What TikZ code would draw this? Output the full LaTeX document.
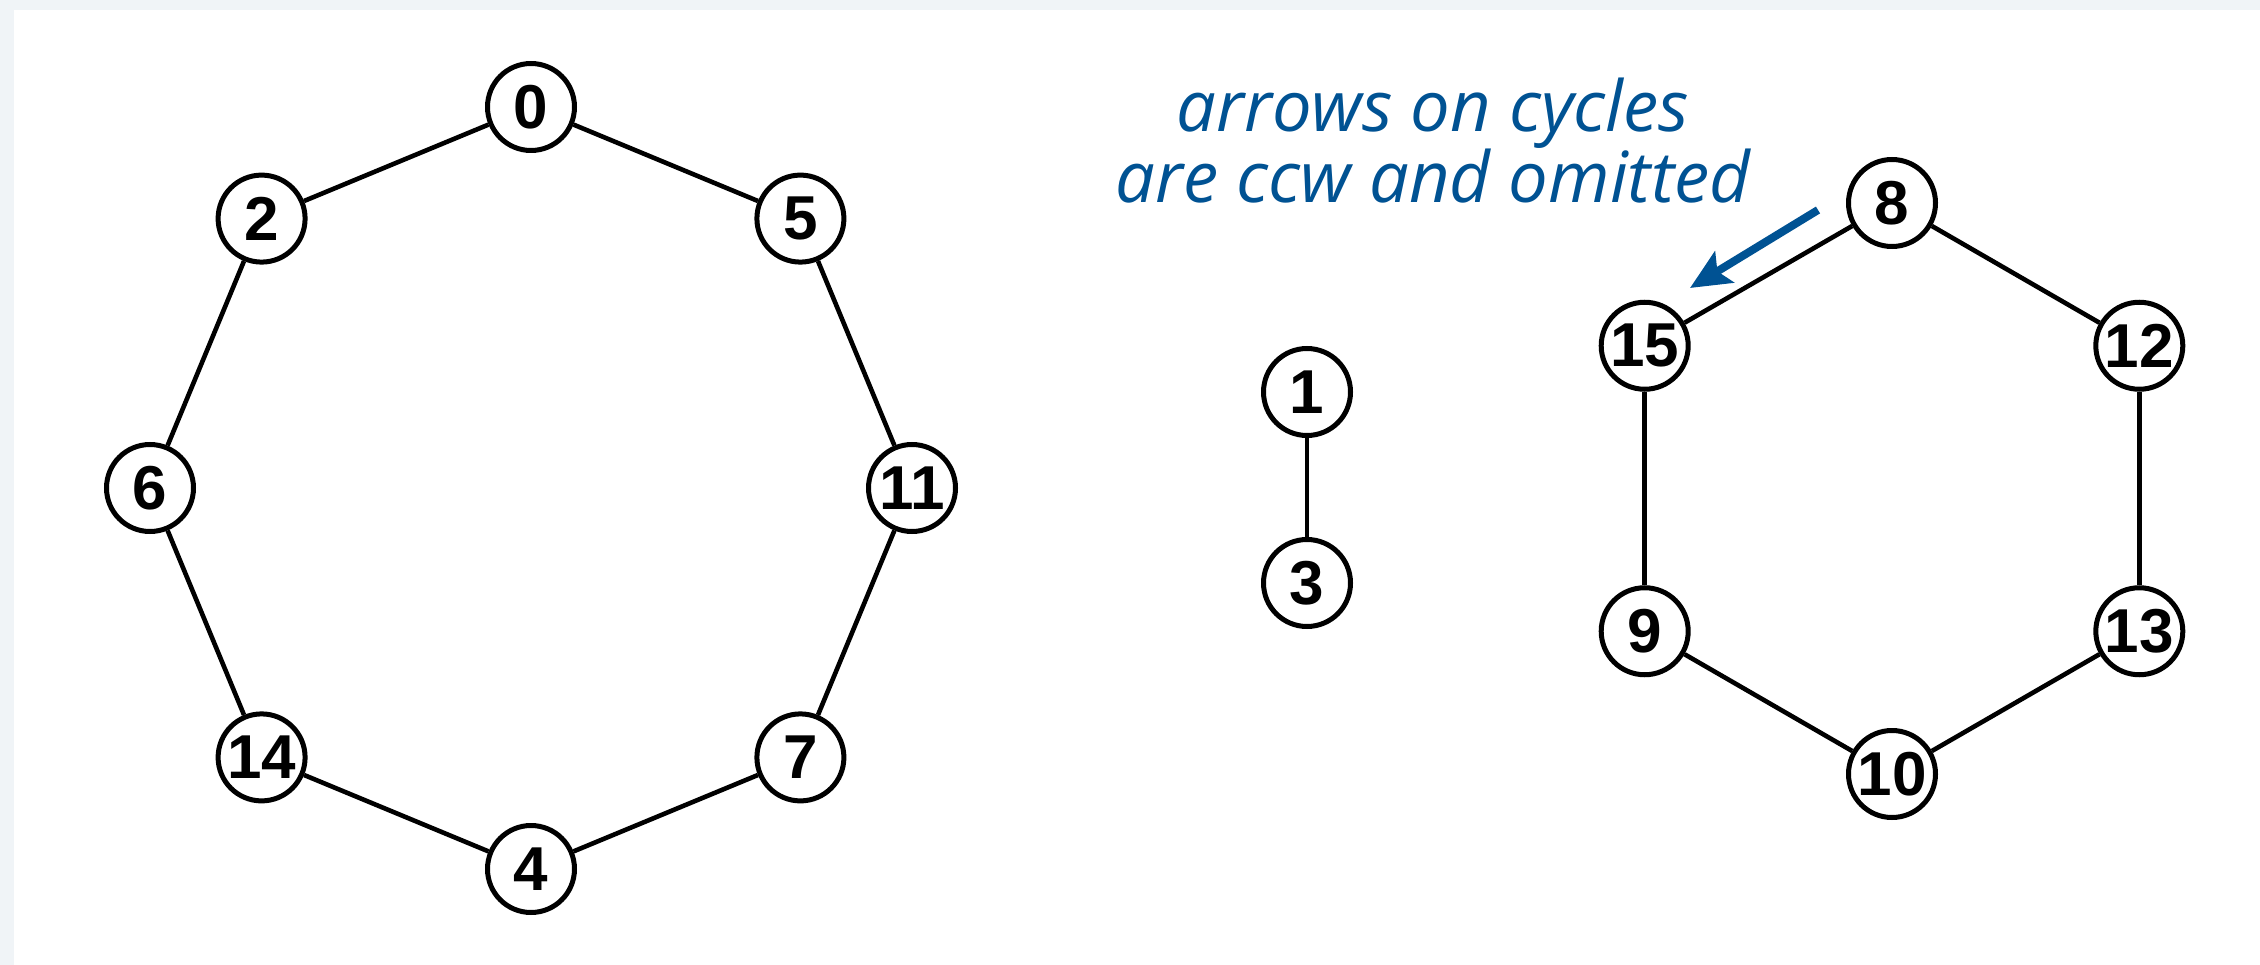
\documentclass[tikz,border=0pt]{standalone}
\usepackage{fontspec}
\setmainfont{Liberation Sans}
\newfontfamily\numfont{Liberation Sans}
\newfontfamily\notefont{Open Sans}
\usetikzlibrary{arrows.meta}
\definecolor{bgc}{RGB}{240,244,247}
\definecolor{noteblue}{RGB}{0,82,147}
\tikzset{
  vert/.style={circle, draw=black, fill=white, line width=5pt, minimum size=87pt, inner sep=0pt,
    font=\numfont\fontsize{62}{62}\selectfont\bfseries},
  edge/.style={draw=black, line width=4.6pt},
  notetext/.style={text=noteblue, align=center, inner sep=0pt,
    font=\notefont\itshape\fontsize{70.5}{69}\selectfont},
  notearrow/.style={draw=noteblue, line width=8pt, -{Stealth[length=40pt,width=36pt,inset=8pt]}}
}
\begin{document}
\begin{tikzpicture}[x=1pt,y=-1pt]
\useasboundingbox (0,0) rectangle (2260,965);
\fill[bgc] (0,0) rectangle (2260,965);
\fill[white] (14,10) rectangle (2260,965);
% octagon
\node[vert] (n0) at (531,107) {0};
\node[vert] (n5) at (800.4,218.6) {5};
\node[vert] (n11) at (912,488) {11};
\node[vert] (n7) at (800.4,757.4) {7};
\node[vert] (n4) at (531,869) {4};
\node[vert] (n14) at (261.6,757.4) {14};
\node[vert] (n6) at (150,488) {6};
\node[vert] (n2) at (261.6,218.6) {2};
% pair
\node[vert] (n1) at (1307,392) {1};
\node[vert] (n3) at (1307,583) {3};
% hexagon
\node[vert] (n8) at (1892,203) {8};
\node[vert] (n12) at (2139.3,345.75) {12};
\node[vert] (n13) at (2139.3,631.25) {13};
\node[vert] (n10) at (1892,774) {10};
\node[vert] (n9) at (1644.7,631.25) {9};
\node[vert] (n15) at (1644.7,345.75) {15};
% edges
\path[edge] (n0) -- (n5);
\path[edge] (n5) -- (n11);
\path[edge] (n11) -- (n7);
\path[edge] (n7) -- (n4);
\path[edge] (n4) -- (n14);
\path[edge] (n14) -- (n6);
\path[edge] (n6) -- (n2);
\path[edge] (n2) -- (n0);
\path[edge] (n1) -- (n3);
\path[edge] (n8) -- (n12);
\path[edge] (n12) -- (n13);
\path[edge] (n13) -- (n10);
\path[edge] (n10) -- (n9);
\path[edge] (n9) -- (n15);
\path[edge] (n15) -- (n8);
% annotation
\node[notetext, anchor=base] (note) at (1433,203) {arrows on cycles\\are ccw and omitted};
\coordinate (arrS) at (1818,210);
\coordinate (arrE) at (1690,288);
\path[notearrow] (arrS) -- (arrE);
\end{tikzpicture}
\end{document}
